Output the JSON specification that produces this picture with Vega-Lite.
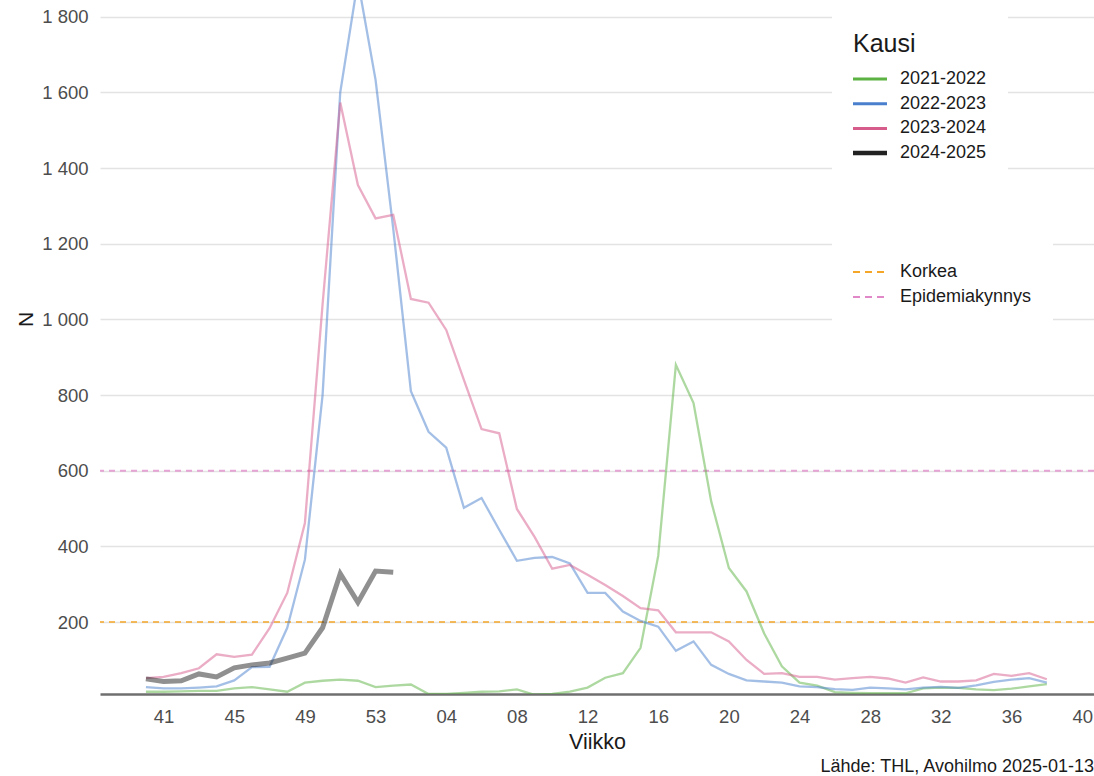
{
  "$schema": "https://vega.github.io/schema/vega-lite/v6.json",
  "width": 994,
  "height": 694,
  "autosize": {"type": "none"},
  "padding": {"left": 100, "top": 0, "right": 0, "bottom": 82},
  "background": "white",
  "config": {"view": {"stroke": null}, "font": "Liberation Sans"},
  "title": {"text": "Lähde: THL, Avohilmo 2025-01-13", "orient": "bottom", "anchor": "end", "frame": "group", "fontSize": 18, "fontWeight": "normal", "color": "#1a1a1a", "offset": 5},
  "datasets": {
    "raja": [
      {"tyyppi": "Korkea", "n": 200},
      {"tyyppi": "Epidemiakynnys", "n": 600}
    ],
    "kausi": [
      {"kausi": "2021-2022", "idx": 0, "n": 16}, {"kausi": "2021-2022", "idx": 1, "n": 16}, {"kausi": "2021-2022", "idx": 2, "n": 17}, {"kausi": "2021-2022", "idx": 3, "n": 18}, {"kausi": "2021-2022", "idx": 4, "n": 18}, {"kausi": "2021-2022", "idx": 5, "n": 25}, {"kausi": "2021-2022", "idx": 6, "n": 28}, {"kausi": "2021-2022", "idx": 7, "n": 22}, {"kausi": "2021-2022", "idx": 8, "n": 16}, {"kausi": "2021-2022", "idx": 9, "n": 40}, {"kausi": "2021-2022", "idx": 10, "n": 45}, {"kausi": "2021-2022", "idx": 11, "n": 48}, {"kausi": "2021-2022", "idx": 12, "n": 45}, {"kausi": "2021-2022", "idx": 13, "n": 28}, {"kausi": "2021-2022", "idx": 14, "n": 32}, {"kausi": "2021-2022", "idx": 15, "n": 35}, {"kausi": "2021-2022", "idx": 16, "n": 10}, {"kausi": "2021-2022", "idx": 17, "n": 10}, {"kausi": "2021-2022", "idx": 18, "n": 13}, {"kausi": "2021-2022", "idx": 19, "n": 16}, {"kausi": "2021-2022", "idx": 20, "n": 17}, {"kausi": "2021-2022", "idx": 21, "n": 22}, {"kausi": "2021-2022", "idx": 22, "n": 8}, {"kausi": "2021-2022", "idx": 23, "n": 10}, {"kausi": "2021-2022", "idx": 24, "n": 16}, {"kausi": "2021-2022", "idx": 25, "n": 27}, {"kausi": "2021-2022", "idx": 26, "n": 53}, {"kausi": "2021-2022", "idx": 27, "n": 65}, {"kausi": "2021-2022", "idx": 28, "n": 132}, {"kausi": "2021-2022", "idx": 29, "n": 375}, {"kausi": "2021-2022", "idx": 30, "n": 880}, {"kausi": "2021-2022", "idx": 31, "n": 779}, {"kausi": "2021-2022", "idx": 32, "n": 519}, {"kausi": "2021-2022", "idx": 33, "n": 343}, {"kausi": "2021-2022", "idx": 34, "n": 281}, {"kausi": "2021-2022", "idx": 35, "n": 170}, {"kausi": "2021-2022", "idx": 36, "n": 83}, {"kausi": "2021-2022", "idx": 37, "n": 40}, {"kausi": "2021-2022", "idx": 38, "n": 32}, {"kausi": "2021-2022", "idx": 39, "n": 15}, {"kausi": "2021-2022", "idx": 40, "n": 13}, {"kausi": "2021-2022", "idx": 41, "n": 12}, {"kausi": "2021-2022", "idx": 42, "n": 12}, {"kausi": "2021-2022", "idx": 43, "n": 12}, {"kausi": "2021-2022", "idx": 44, "n": 25}, {"kausi": "2021-2022", "idx": 45, "n": 27}, {"kausi": "2021-2022", "idx": 46, "n": 26}, {"kausi": "2021-2022", "idx": 47, "n": 22}, {"kausi": "2021-2022", "idx": 48, "n": 20}, {"kausi": "2021-2022", "idx": 49, "n": 24}, {"kausi": "2021-2022", "idx": 50, "n": 30}, {"kausi": "2021-2022", "idx": 51, "n": 36},
      {"kausi": "2022-2023", "idx": 0, "n": 28}, {"kausi": "2022-2023", "idx": 1, "n": 25}, {"kausi": "2022-2023", "idx": 2, "n": 25}, {"kausi": "2022-2023", "idx": 3, "n": 27}, {"kausi": "2022-2023", "idx": 4, "n": 30}, {"kausi": "2022-2023", "idx": 5, "n": 46}, {"kausi": "2022-2023", "idx": 6, "n": 81}, {"kausi": "2022-2023", "idx": 7, "n": 82}, {"kausi": "2022-2023", "idx": 8, "n": 185}, {"kausi": "2022-2023", "idx": 9, "n": 365}, {"kausi": "2022-2023", "idx": 10, "n": 800}, {"kausi": "2022-2023", "idx": 11, "n": 1600}, {"kausi": "2022-2023", "idx": 12, "n": 1895}, {"kausi": "2022-2023", "idx": 13, "n": 1633}, {"kausi": "2022-2023", "idx": 14, "n": 1240}, {"kausi": "2022-2023", "idx": 15, "n": 810}, {"kausi": "2022-2023", "idx": 16, "n": 703}, {"kausi": "2022-2023", "idx": 17, "n": 661}, {"kausi": "2022-2023", "idx": 18, "n": 502}, {"kausi": "2022-2023", "idx": 19, "n": 528}, {"kausi": "2022-2023", "idx": 20, "n": 444}, {"kausi": "2022-2023", "idx": 21, "n": 362}, {"kausi": "2022-2023", "idx": 22, "n": 370}, {"kausi": "2022-2023", "idx": 23, "n": 372}, {"kausi": "2022-2023", "idx": 24, "n": 355}, {"kausi": "2022-2023", "idx": 25, "n": 277}, {"kausi": "2022-2023", "idx": 26, "n": 277}, {"kausi": "2022-2023", "idx": 27, "n": 228}, {"kausi": "2022-2023", "idx": 28, "n": 203}, {"kausi": "2022-2023", "idx": 29, "n": 188}, {"kausi": "2022-2023", "idx": 30, "n": 124}, {"kausi": "2022-2023", "idx": 31, "n": 149}, {"kausi": "2022-2023", "idx": 32, "n": 87}, {"kausi": "2022-2023", "idx": 33, "n": 63}, {"kausi": "2022-2023", "idx": 34, "n": 46}, {"kausi": "2022-2023", "idx": 35, "n": 43}, {"kausi": "2022-2023", "idx": 36, "n": 40}, {"kausi": "2022-2023", "idx": 37, "n": 30}, {"kausi": "2022-2023", "idx": 38, "n": 28}, {"kausi": "2022-2023", "idx": 39, "n": 23}, {"kausi": "2022-2023", "idx": 40, "n": 21}, {"kausi": "2022-2023", "idx": 41, "n": 27}, {"kausi": "2022-2023", "idx": 42, "n": 25}, {"kausi": "2022-2023", "idx": 43, "n": 22}, {"kausi": "2022-2023", "idx": 44, "n": 27}, {"kausi": "2022-2023", "idx": 45, "n": 29}, {"kausi": "2022-2023", "idx": 46, "n": 26}, {"kausi": "2022-2023", "idx": 47, "n": 33}, {"kausi": "2022-2023", "idx": 48, "n": 42}, {"kausi": "2022-2023", "idx": 49, "n": 48}, {"kausi": "2022-2023", "idx": 50, "n": 52}, {"kausi": "2022-2023", "idx": 51, "n": 40},
      {"kausi": "2023-2024", "idx": 0, "n": 52}, {"kausi": "2023-2024", "idx": 1, "n": 55}, {"kausi": "2023-2024", "idx": 2, "n": 65}, {"kausi": "2023-2024", "idx": 3, "n": 78}, {"kausi": "2023-2024", "idx": 4, "n": 115}, {"kausi": "2023-2024", "idx": 5, "n": 108}, {"kausi": "2023-2024", "idx": 6, "n": 114}, {"kausi": "2023-2024", "idx": 7, "n": 184}, {"kausi": "2023-2024", "idx": 8, "n": 277}, {"kausi": "2023-2024", "idx": 9, "n": 462}, {"kausi": "2023-2024", "idx": 10, "n": 1040}, {"kausi": "2023-2024", "idx": 11, "n": 1573}, {"kausi": "2023-2024", "idx": 12, "n": 1355}, {"kausi": "2023-2024", "idx": 13, "n": 1267}, {"kausi": "2023-2024", "idx": 14, "n": 1276}, {"kausi": "2023-2024", "idx": 15, "n": 1054}, {"kausi": "2023-2024", "idx": 16, "n": 1044}, {"kausi": "2023-2024", "idx": 17, "n": 972}, {"kausi": "2023-2024", "idx": 18, "n": 840}, {"kausi": "2023-2024", "idx": 19, "n": 710}, {"kausi": "2023-2024", "idx": 20, "n": 699}, {"kausi": "2023-2024", "idx": 21, "n": 499}, {"kausi": "2023-2024", "idx": 22, "n": 425}, {"kausi": "2023-2024", "idx": 23, "n": 341}, {"kausi": "2023-2024", "idx": 24, "n": 351}, {"kausi": "2023-2024", "idx": 25, "n": 325}, {"kausi": "2023-2024", "idx": 26, "n": 298}, {"kausi": "2023-2024", "idx": 27, "n": 269}, {"kausi": "2023-2024", "idx": 28, "n": 237}, {"kausi": "2023-2024", "idx": 29, "n": 231}, {"kausi": "2023-2024", "idx": 30, "n": 173}, {"kausi": "2023-2024", "idx": 31, "n": 173}, {"kausi": "2023-2024", "idx": 32, "n": 173}, {"kausi": "2023-2024", "idx": 33, "n": 149}, {"kausi": "2023-2024", "idx": 34, "n": 100}, {"kausi": "2023-2024", "idx": 35, "n": 63}, {"kausi": "2023-2024", "idx": 36, "n": 65}, {"kausi": "2023-2024", "idx": 37, "n": 55}, {"kausi": "2023-2024", "idx": 38, "n": 55}, {"kausi": "2023-2024", "idx": 39, "n": 48}, {"kausi": "2023-2024", "idx": 40, "n": 52}, {"kausi": "2023-2024", "idx": 41, "n": 55}, {"kausi": "2023-2024", "idx": 42, "n": 51}, {"kausi": "2023-2024", "idx": 43, "n": 40}, {"kausi": "2023-2024", "idx": 44, "n": 54}, {"kausi": "2023-2024", "idx": 45, "n": 43}, {"kausi": "2023-2024", "idx": 46, "n": 43}, {"kausi": "2023-2024", "idx": 47, "n": 46}, {"kausi": "2023-2024", "idx": 48, "n": 63}, {"kausi": "2023-2024", "idx": 49, "n": 58}, {"kausi": "2023-2024", "idx": 50, "n": 65}, {"kausi": "2023-2024", "idx": 51, "n": 49},
      {"kausi": "2024-2025", "idx": 0, "n": 50}, {"kausi": "2024-2025", "idx": 1, "n": 43}, {"kausi": "2024-2025", "idx": 2, "n": 45}, {"kausi": "2024-2025", "idx": 3, "n": 63}, {"kausi": "2024-2025", "idx": 4, "n": 55}, {"kausi": "2024-2025", "idx": 5, "n": 79}, {"kausi": "2024-2025", "idx": 6, "n": 87}, {"kausi": "2024-2025", "idx": 7, "n": 92}, {"kausi": "2024-2025", "idx": 8, "n": 105}, {"kausi": "2024-2025", "idx": 9, "n": 118}, {"kausi": "2024-2025", "idx": 10, "n": 185}, {"kausi": "2024-2025", "idx": 11, "n": 328}, {"kausi": "2024-2025", "idx": 12, "n": 252}, {"kausi": "2024-2025", "idx": 13, "n": 335}, {"kausi": "2024-2025", "idx": 14, "n": 332}
    ]
  },
  "layer": [
    {
      "data": {"name": "raja"},
      "mark": {"type": "rule", "strokeDash": [6, 5], "strokeWidth": 2, "opacity": 0.75},
      "encoding": {
        "y": {"field": "n", "type": "quantitative", "scale": {"domain": [10, 1844], "nice": false, "zero": false},
          "axis": {"values": [200, 400, 600, 800, 1000, 1200, 1400, 1600, 1800], "labelExpr": "replace(format(datum.value, ','), ',', ' ')", "grid": true, "gridColor": "#e3e3e3", "gridWidth": 1.5, "domain": false, "ticks": false, "tickSize": 0, "labelPadding": 12, "labelFontSize": 18.5, "labelColor": "#4d4d4d", "title": "N", "titleFontSize": 21, "titleFontWeight": "normal", "titleColor": "#1a1a1a", "titleAngle": 270, "titleBaseline": "alphabetic", "titleAlign": "center", "titleX": -68, "titleY": 319}},
        "color": {"field": "tyyppi", "type": "nominal", "scale": {"domain": ["Korkea", "Epidemiakynnys"], "range": ["#f4a628", "#e088c8"]},
          "legend": {"title": null, "orient": "none", "legendX": 732, "legendY": 242, "padding": 21, "fillColor": "white", "labelFontSize": 18, "labelColor": "#1a1a1a", "symbolType": "M-1.8,0H5", "symbolSize": 100, "symbolDash": [7, 5], "symbolStrokeWidth": 2, "symbolOpacity": 1, "labelOffset": 29, "rowPadding": 7}}
      }
    },
    {
      "data": {"name": "kausi"},
      "mark": {"type": "line", "opacity": 0.5, "clip": true},
      "encoding": {
        "x": {"field": "idx", "type": "quantitative", "scale": {"domain": [-2.6, 53.67], "nice": false, "zero": false},
          "axis": {"values": [1, 5, 9, 13, 17, 21, 25, 29, 33, 37, 41, 45, 49, 53], "labelExpr": "datum.value <= 13 ? '' + (40 + datum.value) : (datum.value - 13 < 10 ? '0' + (datum.value - 13) : '' + (datum.value - 13))", "grid": false, "ticks": false, "tickSize": 0, "domainColor": "#6f6f6f", "domainWidth": 2.3, "labelPadding": 13, "labelFontSize": 18.5, "labelColor": "#4d4d4d", "title": "Viikko", "titleFontSize": 21.5, "titleFontWeight": "normal", "titleColor": "#1a1a1a", "titleBaseline": "top", "titleY": 37}},
        "y": {"field": "n", "type": "quantitative", "scale": {"domain": [10, 1844], "nice": false, "zero": false},
          "axis": {"values": [200, 400, 600, 800, 1000, 1200, 1400, 1600, 1800], "labelExpr": "replace(format(datum.value, ','), ',', ' ')", "grid": true, "gridColor": "#e3e3e3", "gridWidth": 1.5, "domain": false, "ticks": false, "tickSize": 0, "labelPadding": 12, "labelFontSize": 18.5, "labelColor": "#4d4d4d", "title": "N", "titleFontSize": 21, "titleFontWeight": "normal", "titleColor": "#1a1a1a", "titleAngle": 270, "titleBaseline": "alphabetic", "titleAlign": "center", "titleX": -68, "titleY": 319}},
        "color": {"field": "kausi", "type": "nominal", "scale": {"domain": ["2021-2022", "2022-2023", "2023-2024", "2024-2025"], "range": ["#5cb343", "#4a7fcd", "#d65c8c", "#222222"]},
          "legend": {"title": "Kausi", "orient": "none", "legendX": 732, "legendY": 11, "padding": 21, "fillColor": "white", "titleFontSize": 25, "titleFontWeight": "normal", "titleColor": "#1a1a1a", "titlePadding": 13, "labelFontSize": 18, "labelColor": "#1a1a1a", "symbolType": "M-1.8,0H5", "symbolSize": 100, "symbolOpacity": 1, "labelOffset": 29, "rowPadding": 6.7,
            "encode": {"symbols": {"update": {"strokeWidth": {"signal": "datum.value === '2024-2025' ? 4.5 : 3"}}}}}},
        "strokeWidth": {"condition": {"test": "datum.kausi === '2024-2025'", "value": 5}, "value": 2.3}
      }
    }
  ],
  "resolve": {"scale": {"color": "independent"}}
}
